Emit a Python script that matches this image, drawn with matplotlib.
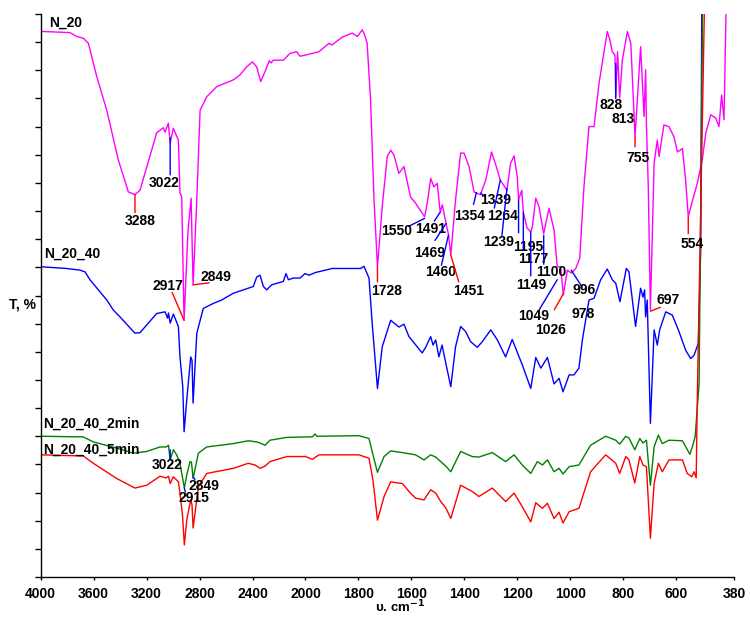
import numpy as np
import matplotlib
matplotlib.use("Agg")
import matplotlib.pyplot as plt

plt.rcParams['font.family'] = ['Liberation Sans', 'DejaVu Sans']
plt.rcParams['font.weight'] = 'bold'

#%% spectra (wavenumber, cm-1 ; transmittance, offset scale 0..100)

wn_n20 = [3992, 3779, 3728, 3678, 3640, 3577, 3501, 3414, 3338, 3288, 3250, 3124,
          3074, 3061, 3036, 3022, 2998, 2960, 2948, 2935, 2917, 2887, 2864, 2849,
          2821, 2796, 2746, 2670, 2545, 2494, 2444, 2401, 2368, 2338, 2305, 2273,
          2260, 2243, 2167, 2117, 2066, 2041, 2000, 1949, 1911, 1900, 1861, 1823,
          1804, 1785, 1775, 1767, 1754, 1741, 1728, 1710, 1691, 1678, 1666, 1647,
          1628, 1617, 1603, 1584, 1550, 1540, 1527, 1515, 1502, 1491, 1483, 1469,
          1460, 1451, 1433, 1414, 1401, 1382, 1363, 1354, 1339, 1319, 1297, 1281,
          1264, 1239, 1225, 1212, 1200, 1195, 1183, 1177, 1163, 1149, 1143, 1130,
          1118, 1100, 1080, 1061, 1049, 1036, 1026, 1011, 996, 979, 964, 948,
          929, 910, 891, 860, 850, 841, 831, 828, 821, 813, 803, 784,
          771, 755, 734, 727, 721, 715, 712, 705, 697, 683, 671, 664,
          646, 627, 608, 595, 576, 564, 554, 539, 520, 501, 488, 469,
          450, 438, 428, 419, 411]
t_n20 = [96.9, 96.7, 96.0, 95.7, 94.8, 88.9, 82.9, 74.1, 68.4, 67.9, 68.7, 78.9,
         79.8, 79.0, 80.6, 77.1, 79.7, 77.6, 68.2, 67.5, 45.6, 61.6, 67.3, 51.9,
         67.0, 82.9, 85.3, 87.1, 88.3, 89.2, 90.6, 91.5, 90.6, 88.0, 89.8, 91.7,
         91.3, 91.8, 91.8, 93.0, 93.3, 92.5, 92.7, 93.3, 94.8, 94.5, 95.9, 96.6,
         96.0, 97.2, 96.1, 94.8, 84.7, 67.0, 55.1, 65.8, 74.7, 75.8, 75.0, 71.7,
         72.9, 70.5, 67.5, 66.4, 64.0, 66.4, 70.8, 69.3, 69.9, 64.8, 66.1, 62.8,
         60.9, 57.2, 67.0, 75.3, 75.3, 72.9, 68.4, 68.2, 67.9, 70.5, 75.5, 73.2,
         70.5, 68.7, 73.5, 74.8, 71.1, 67.0, 68.7, 64.8, 62.0, 61.3, 62.2, 67.3,
         65.8, 61.0, 65.5, 61.6, 55.1, 55.1, 50.1, 54.5, 54.0, 54.8, 56.6, 69.3,
         80.0, 80.0, 87.7, 96.9, 95.4, 93.3, 92.7, 85.3, 93.3, 85.1, 91.8, 96.9,
         94.8, 78.2, 94.2, 87.4, 81.8, 90.1, 80.3, 69.3, 47.4, 73.5, 77.6, 74.7,
         80.3, 80.0, 78.2, 75.5, 76.1, 70.5, 64.0, 66.7, 69.9, 74.1, 78.8, 82.1,
         81.5, 80.0, 85.6, 81.2, 101.0]

wn_n20_40 = [3992, 3804, 3703, 3665, 3628, 3501, 3451, 3401, 3288, 3250, 3124, 3061,
             3042, 3035, 3022, 2998, 2960, 2948, 2927, 2917, 2897, 2867, 2857, 2849,
             2821, 2772, 2696, 2633, 2545, 2394, 2368, 2343, 2318, 2293, 2255, 2167,
             2147, 2129, 2092, 2041, 2003, 1987, 1961, 1899, 1791, 1779, 1760, 1748,
             1728, 1710, 1678, 1647, 1628, 1609, 1578, 1559, 1547, 1527, 1518, 1508,
             1496, 1484, 1470, 1451, 1433, 1414, 1395, 1376, 1351, 1332, 1300, 1275,
             1244, 1219, 1193, 1181, 1149, 1130, 1111, 1086, 1061, 1042, 1027, 1004,
             986, 967, 954, 929, 910, 885, 860, 841, 828, 812, 788, 778,
             753, 734, 725, 719, 715, 709, 697, 683, 671, 662, 639, 614,
             589, 564, 545, 532, 516, 507, 503]
t_n20_40 = [55.1, 54.8, 54.5, 54.2, 52.8, 49.2, 47.4, 46.2, 43.3, 43.4, 46.8, 47.1,
            46.0, 46.9, 45.1, 46.7, 44.5, 39.1, 33.8, 25.8, 31.4, 39.1, 38.5, 30.9,
            43.3, 47.7, 48.6, 49.2, 50.4, 51.6, 53.3, 53.6, 51.6, 51.0, 51.9, 52.5,
            53.9, 52.8, 53.1, 53.1, 53.9, 53.6, 54.1, 54.8, 54.8, 55.2, 53.1, 45.1,
            33.5, 40.9, 45.6, 44.4, 44.9, 42.7, 40.9, 39.8, 40.7, 42.7, 41.2, 42.1,
            39.1, 41.2, 38.0, 33.8, 40.9, 44.5, 43.6, 41.8, 40.8, 41.8, 43.9, 42.1,
            39.1, 42.2, 39.1, 37.7, 33.5, 39.0, 37.1, 39.0, 34.3, 35.3, 32.9, 35.9,
            35.9, 37.1, 42.1, 49.2, 49.5, 52.8, 54.7, 52.8, 52.2, 48.9, 54.8, 54.2,
            44.5, 51.3, 49.7, 51.0, 46.2, 49.2, 27.3, 43.9, 41.2, 43.9, 47.1, 46.5,
            43.6, 40.3, 38.8, 39.4, 41.5, 58.1, 101.0]

wn_2min = [3992, 3728, 3680, 3603, 3426, 3300, 3199, 3099, 3053, 3035, 3022, 2998,
           2973, 2948, 2915, 2897, 2872, 2861, 2849, 2809, 2746, 2545, 2432, 2368,
           2343, 2305, 2268, 2141, 1974, 1964, 1957, 1798, 1760, 1745, 1728, 1703,
           1678, 1634, 1584, 1552, 1527, 1508, 1489, 1470, 1451, 1414, 1370, 1345,
           1294, 1244, 1212, 1181, 1149, 1124, 1105, 1086, 1061, 1042, 1027, 1004,
           967, 923, 866, 828, 813, 790, 778, 756, 737, 725, 712, 697,
           683, 667, 652, 627, 576, 548, 540, 528, 513, 500]
t_2min = [25.0, 24.9, 24.9, 24.0, 22.9, 22.0, 22.3, 23.1, 23.1, 23.4, 20.8, 22.6,
          21.7, 20.2, 15.8, 18.1, 20.5, 20.4, 17.5, 22.0, 23.1, 23.7, 24.2, 24.0,
          23.8, 23.4, 24.3, 24.8, 24.9, 25.4, 25.0, 25.1, 24.6, 21.7, 18.6, 21.4,
          22.4, 22.1, 21.7, 20.8, 21.7, 21.3, 20.5, 19.7, 18.7, 22.3, 21.4, 21.3,
          22.1, 20.5, 21.7, 19.9, 18.4, 20.5, 19.9, 20.8, 18.7, 19.3, 18.3, 19.6,
          19.9, 23.4, 25.0, 24.3, 23.6, 25.0, 24.7, 22.6, 24.6, 23.8, 24.3, 16.3,
          23.1, 25.2, 23.7, 24.3, 24.2, 21.8, 22.9, 24.9, 34.4, 101.0]

wn_5min = [3992, 3678, 3603, 3426, 3288, 3199, 3099, 3053, 3035, 3022, 2998, 2960,
           2948, 2929, 2915, 2897, 2867, 2857, 2849, 2809, 2746, 2545, 2432, 2381,
           2343, 2305, 2268, 2141, 2000, 1974, 1949, 1798, 1760, 1745, 1728, 1703,
           1678, 1634, 1609, 1584, 1552, 1527, 1508, 1489, 1470, 1451, 1414, 1370,
           1345, 1294, 1244, 1212, 1181, 1149, 1130, 1105, 1086, 1061, 1042, 1027,
           1004, 967, 923, 866, 828, 813, 790, 778, 756, 737, 725, 712,
           697, 683, 667, 652, 627, 576, 558, 541, 532, 524, 520, 493]
t_5min = [21.7, 21.5, 20.2, 17.5, 15.8, 16.3, 17.9, 17.6, 17.9, 16.6, 17.8, 16.9,
          14.9, 11.0, 5.7, 10.1, 13.7, 12.8, 8.7, 16.0, 18.4, 19.3, 20.2, 19.9,
          19.3, 19.7, 20.5, 21.4, 21.4, 20.9, 21.7, 21.7, 21.1, 17.2, 10.1, 14.3,
          16.9, 16.6, 15.2, 14.0, 13.7, 15.5, 14.9, 13.4, 12.3, 10.4, 16.3, 15.2,
          14.3, 15.8, 13.4, 14.9, 12.5, 9.8, 13.2, 12.2, 13.1, 10.4, 11.5, 9.6,
          11.6, 12.2, 18.7, 21.7, 20.2, 18.4, 21.4, 20.8, 16.7, 21.4, 19.9, 19.6,
          6.9, 16.6, 20.2, 18.7, 20.8, 20.8, 18.4, 17.8, 18.7, 17.6, 31.4, 101.0]

names = ['N_20', 'N_20_40', 'N_20_40_2min', 'N_20_40_5min']
colors = ['#ff00ff', '#0000ff', '#008000', '#ff0000']

# peak labels: value, T at pointer tip
peak_wn = [3288, 3022, 2917, 2849, 1728, 1550, 1491, 1469, 1460, 1451,
           1354, 1339, 1264, 1239, 1195, 1177, 1149, 1100, 1049, 1026,
           996, 978, 828, 813, 755, 697, 554, 3022, 2849, 2915]
peak_t = [67.9, 78.0, 45.6, 51.9, 55.1, 63.7, 64.8, 62.8, 60.7, 57.2,
          68.3, 68.2, 70.5, 69.0, 67.0, 64.8, 61.3, 60.7, 52.8, 50.3,
          54.5, 46.7, 91.2, 81.3, 78.2, 47.2, 64.0, 22.6, 17.8, 15.8]

# pointer tail and text centre, pixel offsets from the tip (x right, y down)
peak_geom = [
    ((0, 18), (5, 26), 'r'), ((0, 37), (-6, 45), 'b'), ((-12, -28), (-16, -34), 'r'),
    ((16, -2), (23, -8), 'r'), ((0, 15), (9, 24), 'r'), ((-16, 8), (-28, 13), 'b'),
    ((-6, 9), (-10, 17), 'b'), ((-11, 17), (-16, 30), 'b'), ((-7, 30), (-8, 37), 'b'),
    ((8, 27), (18, 36), 'r'), ((-3, 12), (-7, 24), 'b'), ((5, 4), (15, 7), 'b'),
    ((-6, 28), (2, 36), 'b'), ((-5, 47), (-8, 53), 'b'), ((0, 33), (10, 47), 'b'),
    ((0, 38), (10, 47), 'b'), ((0, 44), (1, 53), 'b'), ((0, 29), (8, 37), 'b'),
    ((-18, 30), (-24, 36), 'b'), ((-9, 16), (-13, 36), 'r'), ((11, 17), (13, 20), 'b'),
    (None, (7, 0), 'b'), ((0, 35), (-5, 41), 'b'), (None, (3, 0), 'r'),
    ((0, 10), (3, 21), 'r'), ((10, -4), (18, -11), 'r'), ((0, 17), (4, 27), 'r'),
    ((0, 9), (-3, 15), 'b'), ((2, 3), (11, 9), 'b'), ((1, 4), (10, 10), 'b'),
]


def fwd(v):
    v = np.asarray(v, dtype=float)
    return np.where(v > 2000, 2000 + (v - 2000) / 2.0, v)


def inv(t):
    t = np.asarray(t, dtype=float)
    return np.where(t > 2000, 2000 + (t - 2000) * 2.0, t)


#%%

fig = plt.figure(figsize=(7.5, 6.17), dpi=100)
ax = fig.add_axes([0.0543, 0.0648, 0.9248, 0.9125])
ax.set_xscale('function', functions=(fwd, inv))

series = [(wn_n20, t_n20), (wn_n20_40, t_n20_40), (wn_2min, t_2min), (wn_5min, t_5min)]
for (x, y), c in zip(series, colors):
    ax.plot(x, y, color=c, lw=1.0)

ax.set_xlim(4000, 380)
ax.set_ylim(0, 100)
ax.set_xticks([4000, 3600, 3200, 2800, 2400, 2000, 1800, 1600, 1400, 1200,
               1000, 800, 600, 380])
ax.set_xticklabels(['4000', '3600', '3200', '2800', '2400', '2000', '1800', '1600',
                    '1400', '1200', '1000', '800', '600', '380'])
ax.xaxis.set_minor_locator(plt.NullLocator())
ax.set_yticks(np.arange(0, 101, 5))
ax.set_yticklabels([])
ax.tick_params(axis='x', length=2, width=1, pad=5, labelsize=10)
ax.tick_params(axis='y', length=4, width=1, direction='out')
for s in ['top', 'right']:
    ax.spines[s].set_visible(False)
ax.spines['left'].set_linewidth(1.0)
ax.spines['bottom'].set_linewidth(1.0)
for lab in ax.get_xticklabels():
    lab.set_fontweight('bold')

# curve names
name_pos = [(3937, 98.4), (3975, 57.4), (3983, 27.2), (3983, 22.6)]
for n, (x, y) in zip(names, name_pos):
    ax.text(x, y, n, fontsize=10, fontweight='bold', ha='left', va='center')

# peak labels with pointer lines
px2pt = 0.72
for w, t, (tail, txt, c) in zip(peak_wn, peak_t, peak_geom):
    lc = '#ff0000' if c == 'r' else '#0000ff'
    if tail is not None:
        ax.annotate('', xy=(w, t), xytext=(tail[0] * px2pt, -tail[1] * px2pt),
                    textcoords='offset points',
                    arrowprops=dict(arrowstyle='-', color=lc, lw=1.0,
                                    shrinkA=0, shrinkB=0))
    ax.annotate(str(w), xy=(w, t), xytext=(txt[0] * px2pt, -txt[1] * px2pt),
                textcoords='offset points', ha='center', va='center',
                fontsize=10, fontweight='bold')

fig.text(0.030, 0.506, 'T, %', fontsize=10, fontweight='bold', ha='center', va='center')
fig.text(0.533, 0.002, 'υ. cm$^{-1}$', fontsize=9.5, fontweight='bold',
         ha='center', va='bottom')

fig.savefig('out.png', dpi=100)
